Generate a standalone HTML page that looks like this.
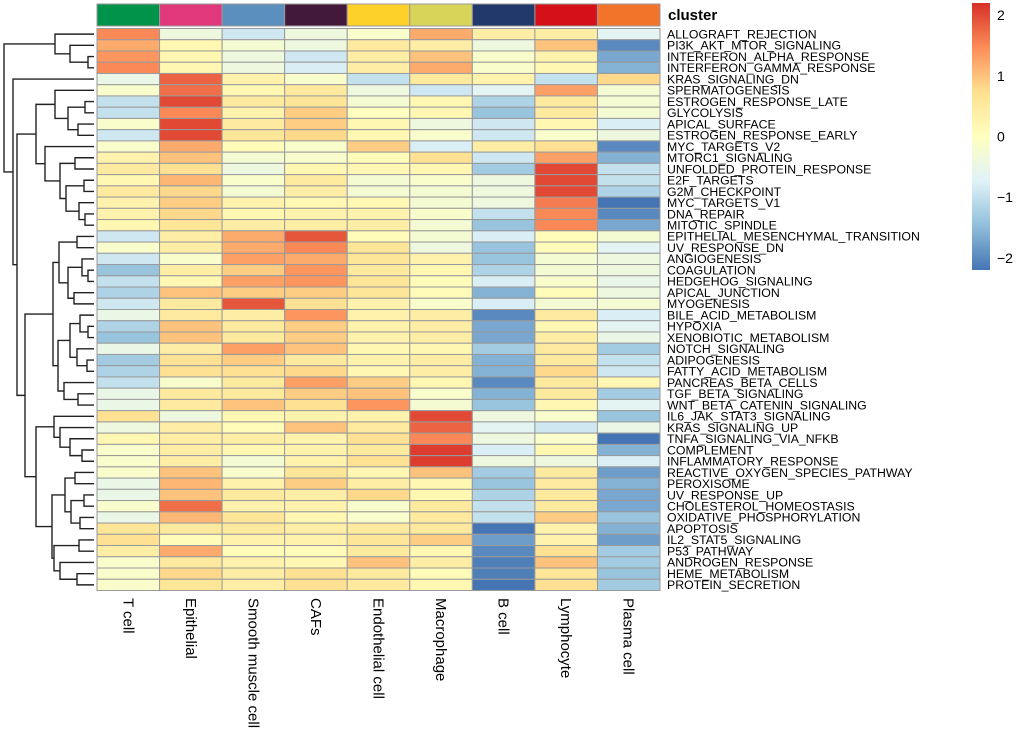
<!DOCTYPE html>
<html><head><meta charset="utf-8"><style>
body{margin:0;background:#fff}
svg{display:block;font-family:"Liberation Sans",sans-serif}
</style></head><body>
<svg id="chart" width="1020" height="752" viewBox="0 0 1020 752" xmlns="http://www.w3.org/2000/svg"></svg>
<script>
const columns=["T cell","Epithelial","Smooth muscle cell","CAFs","Endothelial cell","Macrophage","B cell","Lymphocyte","Plasma cell"];
const clusterColors=["#00934A","#E0387A","#5B8FBD","#43193B","#FDD12A","#D8D45A","#213A6B","#D61018","#F2742A"];
const rows=["ALLOGRAFT_REJECTION","PI3K_AKT_MTOR_SIGNALING","INTERFERON_ALPHA_RESPONSE","INTERFERON_GAMMA_RESPONSE","KRAS_SIGNALING_DN","SPERMATOGENESIS","ESTROGEN_RESPONSE_LATE","GLYCOLYSIS","APICAL_SURFACE","ESTROGEN_RESPONSE_EARLY","MYC_TARGETS_V2","MTORC1_SIGNALING","UNFOLDED_PROTEIN_RESPONSE","E2F_TARGETS","G2M_CHECKPOINT","MYC_TARGETS_V1","DNA_REPAIR","MITOTIC_SPINDLE","EPITHELIAL_MESENCHYMAL_TRANSITION","UV_RESPONSE_DN","ANGIOGENESIS","COAGULATION","HEDGEHOG_SIGNALING","APICAL_JUNCTION","MYOGENESIS","BILE_ACID_METABOLISM","HYPOXIA","XENOBIOTIC_METABOLISM","NOTCH_SIGNALING","ADIPOGENESIS","FATTY_ACID_METABOLISM","PANCREAS_BETA_CELLS","TGF_BETA_SIGNALING","WNT_BETA_CATENIN_SIGNALING","IL6_JAK_STAT3_SIGNALING","KRAS_SIGNALING_UP","TNFA_SIGNALING_VIA_NFKB","COMPLEMENT","INFLAMMATORY_RESPONSE","REACTIVE_OXYGEN_SPECIES_PATHWAY","PEROXISOME","UV_RESPONSE_UP","CHOLESTEROL_HOMEOSTASIS","OXIDATIVE_PHOSPHORYLATION","APOPTOSIS","IL2_STAT5_SIGNALING","P53_PATHWAY","ANDROGEN_RESPONSE","HEME_METABOLISM","PROTEIN_SECRETION"];
const values=[
[1.5,-0.4,-0.9,-0.4,-0.15,1.2,0.4,0.4,-0.65],
[1.2,0.2,-0.25,-0.4,0.5,0.4,-0.4,1.0,-2.0],
[1.4,0.2,-0.4,-0.9,0.4,1.0,-0.15,0.3,-1.7],
[1.5,0.2,-0.4,-0.8,0.4,1.2,-0.15,0.2,-1.6],
[-0.5,1.8,0.3,-0.15,-1.0,0.5,0.3,-1.0,0.8],
[-0.15,1.7,0.2,0.5,-0.4,-0.9,-0.65,1.3,-0.25],
[-1.0,2.0,0.5,0.6,-0.25,0.2,-1.2,0.5,-0.25],
[-1.0,1.5,0.3,0.9,0.0,0.2,-1.4,0.5,-0.25],
[-0.15,2.0,0.5,0.9,0.2,-0.4,-0.9,0.2,-0.8],
[-0.9,2.0,0.6,0.8,0.2,-0.15,-0.9,-0.15,-0.4],
[-0.15,1.2,0.1,-0.15,0.9,-0.8,0.4,0.7,-2.0],
[0.3,1.0,-0.25,-0.15,0.1,0.7,-0.9,1.3,-1.6],
[0.5,0.7,-0.4,0.2,0.2,0.2,-1.3,2.0,-1.0],
[0.2,1.1,-0.15,0.5,-0.25,-0.15,-0.4,2.0,-1.0],
[0.5,0.8,-0.25,0.4,-0.25,-0.25,-0.4,2.0,-1.2],
[0.3,0.9,0.3,0.2,0.2,-0.25,-0.4,1.6,-2.3],
[0.3,0.8,0.2,0.3,0.3,-0.15,-1.0,1.5,-2.0],
[0.2,0.6,0.4,0.4,0.4,-0.25,-1.4,1.5,-1.7],
[-0.9,0.4,1.2,1.9,0.1,-0.25,-0.8,0.1,-0.25],
[-0.15,0.4,1.2,1.5,0.6,-0.4,-1.4,0.1,-0.65],
[-0.9,-0.15,1.3,1.2,0.6,0.3,-1.4,-0.25,-0.4],
[-1.4,0.4,0.9,1.4,0.5,0.2,-1.2,-0.25,-0.4],
[-1.0,0.2,1.3,1.4,0.6,0.1,-0.8,-0.15,-0.5],
[-1.2,1.0,0.9,0.9,0.6,0.1,-1.6,0.1,-0.4],
[-0.9,0.5,1.9,0.7,0.3,-0.15,-0.8,-0.25,-0.25],
[-0.5,0.5,0.4,1.4,0.3,0.4,-2.0,0.5,-0.8],
[-1.2,1.0,0.5,0.9,0.3,0.4,-1.7,0.2,-0.65],
[-1.4,1.0,0.5,0.9,0.3,0.4,-1.7,0.4,-0.5],
[-0.5,0.4,1.3,1.0,0.2,0.2,-1.3,0.5,-1.3],
[-1.3,0.7,0.9,0.5,0.3,0.4,-1.6,0.5,-1.0],
[-1.2,0.7,0.7,0.8,0.2,0.4,-1.6,0.8,-0.9],
[-1.0,-0.15,0.5,1.3,0.9,0.2,-2.0,0.5,0.2],
[-0.5,0.5,0.5,0.9,1.0,-0.15,-1.6,0.5,-1.3],
[-0.5,0.5,1.0,0.7,1.4,-0.25,-1.4,0.2,-0.65],
[0.7,-0.4,0.2,0.3,0.3,2.0,-0.4,-0.15,-1.4],
[-0.4,0.4,0.1,1.0,0.5,1.8,-0.65,-0.9,-0.5],
[0.2,0.4,0.4,0.3,0.7,1.5,-0.4,-0.15,-2.4],
[-0.15,0.4,0.2,0.3,0.5,2.1,-0.8,0.2,-1.6],
[-0.15,0.4,-0.25,0.3,0.7,2.1,-0.4,-0.4,-0.8],
[-0.15,1.0,-0.15,0.6,0.2,1.0,-1.3,0.5,-1.8],
[-0.5,1.1,0.3,0.9,0.4,0.2,-1.4,0.5,-1.6],
[-0.5,1.0,0.5,0.4,0.8,0.2,-1.2,0.5,-1.7],
[-0.15,1.7,0.3,0.3,-0.15,0.5,-1.0,0.5,-1.7],
[-0.5,1.1,0.6,0.2,-0.15,0.5,-1.0,0.9,-1.4],
[0.6,0.5,0.5,0.4,0.5,0.5,-2.3,0.3,-1.6],
[0.7,0.1,0.3,0.3,0.6,0.9,-1.8,0.3,-1.8],
[0.4,1.2,0.1,0.1,0.5,0.2,-2.0,0.7,-1.3],
[-0.15,0.5,0.3,0.2,1.0,0.4,-2.1,1.0,-1.3],
[-0.15,0.8,0.4,0.7,0.5,0.1,-2.1,0.6,-1.4],
[-0.15,0.6,0.4,0.7,0.5,0.2,-2.2,0.7,-1.3]];
const legendTicks=[2,1,0,-1,-2];
// dendrogram: [mergeHeight, left, right]; leaves are row indices
const tree=[4,[55,0,[70,1,[88,2,3]]],[13,4,[17,
 [36,[55,5,[68,[85,6,7],[78,8,9]]],[45,10,[60,[75,11,12],[66,[84,13,14],[79,15,[85,16,17]]]]]],
 [25,[53,[59,[77,18,19],[68,[82,20,[88,21,22]],[74,23,24]]],[58,[70,[80,25,[88,26,27]],[77,28,[87,29,30]]],[64,31,[78,32,33]]]],
     [36,[54,34,[60,35,[70,36,[82,37,38]]]],[52,[65,[75,39,40],[71,[84,41,42],[80,43,44]]],[54,[79,45,46],[60,47,[77,48,49]]]]]]]]];

const NS="http://www.w3.org/2000/svg";
const svg=document.getElementById('chart');
function mk(t,a,p){const e=document.createElementNS(NS,t);for(const k in a)e.setAttribute(k,a[k]);(p||svg).appendChild(e);return e;}
const X0=97,X1=660,Y0=28.5,Y1=590.5;
const cw=(X1-X0)/columns.length, rh=(Y1-Y0)/rows.length;
const xPos=i=>X0+i*cw, yPos=i=>Y0+i*rh;
const stops=["#4575B4","#91BFDB","#E0F3F8","#FFFFBF","#FEE090","#FC8D59","#D73027"];
const VMIN=-2.2,VMAX=2.2;
function hex(h){return [1,3,5].map(i=>parseInt(h.substr(i,2),16));}
function color(v){let t=(v-VMIN)/(VMAX-VMIN);t=Math.max(0,Math.min(1,t));const s=t*(stops.length-1);const i=Math.min(Math.floor(s),stops.length-2);const f=s-i;const a=hex(stops[i]),b=hex(stops[i+1]);return 'rgb('+a.map((c,k)=>Math.round(c+(b[k]-c)*f)).join(',')+')';}

const ann=mk('g',{});


columns.forEach((c,i)=>{const r=mk('rect',{x:xPos(i),y:4,width:cw,height:22,fill:clusterColors[i],stroke:'#9a9a9a','stroke-width':1},ann);

});
const ct=mk('text',{x:668,y:20,'font-size':15,'font-weight':'bold',fill:'#000'});ct.textContent='cluster';



const cells=mk('g',{});


values.forEach((row,r)=>row.forEach((v,c)=>{const e=mk('rect',{x:xPos(c),y:yPos(r),width:cw,height:rh,fill:color(v),stroke:'#9a9a9a','stroke-width':1},cells);

}));

rows.forEach((n,r)=>{const t=mk('text',{x:667,y:yPos(r)+rh/2+4.3,'font-size':12.3,fill:'#000'});t.textContent=n;

});
columns.forEach((n,c)=>{const x=xPos(c)+cw/2-5,y=598;const t=mk('text',{x:x,y:y,'font-size':15,fill:'#000',transform:'rotate(90 '+x+' '+y+')'});t.textContent=n;

});

const dg=mk('g',{stroke:'#222','stroke-width':1.4,fill:'none'});


const LEAFX=94;
function draw(n){if(typeof n==='number')return{x:LEAFX,y:yPos(n)+rh/2};
const h=n[0],a=draw(n[1]),b=draw(n[2]);
mk('path',{d:'M'+a.x+','+a.y+'H'+h+'V'+b.y+'H'+b.x},dg);return{x:h,y:(a.y+b.y)/2};}
draw(tree);

const defs=mk('defs',{});const lg=mk('linearGradient',{id:'lg',x1:0,y1:1,x2:0,y2:0},defs);
stops.forEach((s,i)=>mk('stop',{offset:i/(stops.length-1),'stop-color':s},lg));
const LT=3,LB=270;const ly=v=>LB-(v-VMIN)/(VMAX-VMIN)*(LB-LT);
const leg=mk('rect',{x:972,y:LT,width:18,height:LB-LT,fill:'url(#lg)'});


legendTicks.forEach(v=>{const t=mk('text',{x:997,y:ly(v)+5,'font-size':14,fill:'#000'});t.textContent=v<0?'\u2212'+Math.abs(v):String(v);

});
</script>
</body></html>
